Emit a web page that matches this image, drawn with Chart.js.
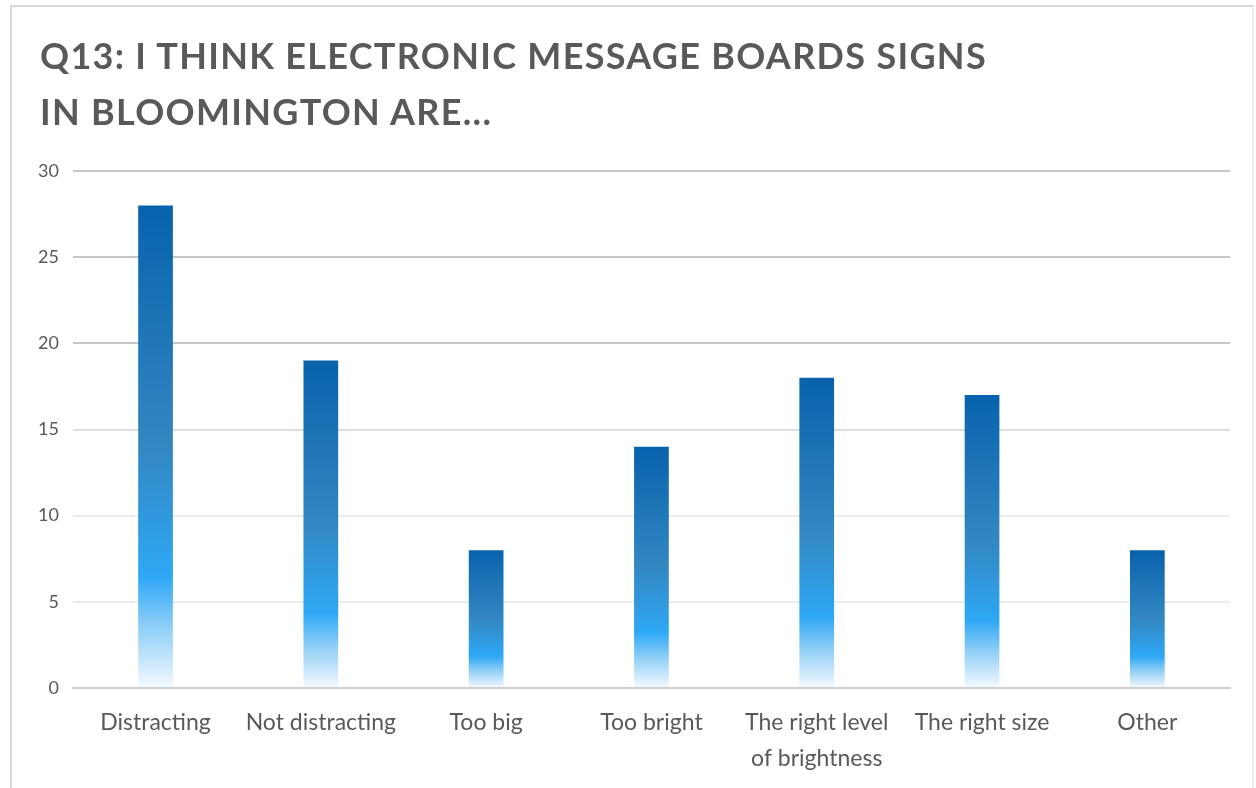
<!DOCTYPE html>
<html>
<head>
<meta charset="utf-8">
<script src="https://cdn.jsdelivr.net/npm/chart.js@4"></script>
<style>
  html, body { margin: 0; padding: 0; background: #fff; overflow: hidden; }
  #wrap { position: relative; width: 1256px; height: 788px; }
  #frame {
    position: absolute; left: 10px; top: 5px; width: 1240px; height: 800px;
    border: 2px solid #d9d9d9; border-right-color: #ececec; pointer-events: none;
  }
  #title {
    position: absolute; left: 40px; top: 27px; margin: 0;
    font-family: Lato, sans-serif; font-weight: bold; font-size: 36px;
    line-height: 56px; letter-spacing: 1.3px; color: #595959; white-space: nowrap;
  }
</style>
</head>
<body>
<div id="wrap">
  <canvas id="chart" width="1256" height="788"></canvas>
  <div id="title"></div>
  <div id="frame"></div>
</div>
<script>
/* Data */
////////////////////////////////////////////
const titleLines = ['Q13: I THINK ELECTRONIC MESSAGE BOARDS SIGNS', 'IN BLOOMINGTON ARE...'];
const categories = [
  'Distracting',
  'Not distracting',
  'Too big',
  'Too bright',
  ['The right level', 'of brightness'],
  'The right size',
  'Other'
];
const responses = [28, 19, 8, 14, 18, 17, 8];
const yTicks = [0, 5, 10, 15, 20, 25, 30];

const textGrey = '#595959';

/* Title as real text, letter-spaced like the original */
document.getElementById('title').innerHTML = titleLines.join('<br>');

/* Vertical fade for each bar: dark blue on top, white at the base */
function barFill(context) {
  const chart = context.chart;
  const area = chart.chartArea;
  if (!area) return '#2e86c1';
  const y = chart.scales.y;
  const top = y.getPixelForValue(context.raw);
  const base = y.getPixelForValue(0);
  const g = chart.ctx.createLinearGradient(0, top, 0, base);
  g.addColorStop(0, '#0862ac');
  g.addColorStop(0.5, '#3387c2');
  g.addColorStop(0.77, '#2ea8f5');
  g.addColorStop(0.87, '#8ccdf6');
  g.addColorStop(1, '#f4faff');
  return g;
}

/* Grid lines get lighter towards the bottom, as in the picture */
function gridColour(context) {
  const v = context.tick ? context.tick.value : 0;
  if (v === 0) return '#d0d0d0';
  if (v >= 20) return '#c8c8c8';
  if (v === 15) return '#dedede';
  return '#ececec';
}

const ctx = document.getElementById('chart').getContext('2d');
const chart = new Chart(ctx, {
  type: 'bar',
  data: {
    labels: categories,
    datasets: [{
      data: responses,
      backgroundColor: barFill,
      borderWidth: 0,
      categoryPercentage: 1,
      barPercentage: 0.21
    }]
  },
  options: {
    responsive: false,
    animation: false,
    layout: { padding: { left: 24, right: 26, top: 171, bottom: -6 } },
    scales: {
      x: {
        grid: { display: false, drawTicks: false },
        border: { color: '#d0d0d0', width: 2 },
        ticks: {
          color: textGrey,
          padding: 17,
          maxRotation: 0,
          autoSkip: false,
          font: { family: 'Lato', size: 23, lineHeight: 36 / 23 }
        }
      },
      y: {
        min: 0,
        max: 30,
        afterBuildTicks: function (axis) {
          axis.ticks = yTicks.map(v => ({ value: v }));
        },
        grid: { color: gridColour, lineWidth: 2, drawTicks: false },
        border: { display: false },
        ticks: {
          color: textGrey,
          padding: 14,
          font: { family: 'Lato', size: 18 }
        }
      }
    },
    plugins: {
      legend: { display: false },
      tooltip: { enabled: false },
      title: { display: false }
    }
  }
});
</script>
</body>
</html>
